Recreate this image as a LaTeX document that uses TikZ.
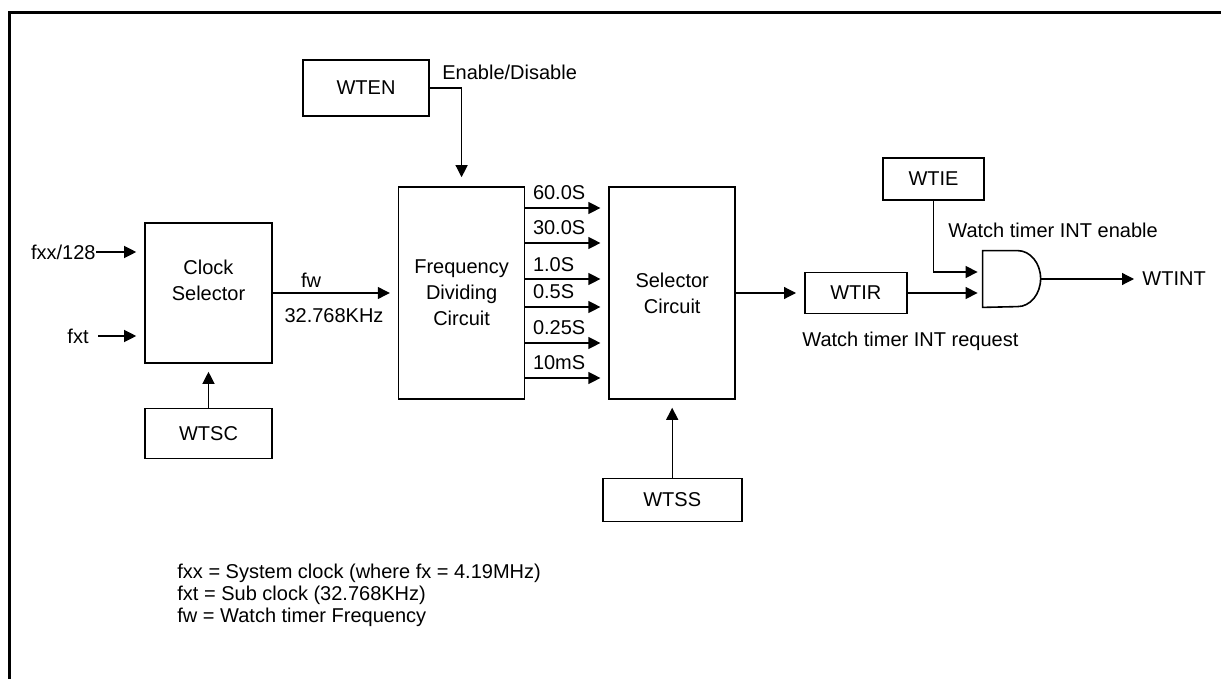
\documentclass[tikz,border=0pt]{standalone}
\usepackage{fontspec}
\setmainfont{Liberation Sans}
\usetikzlibrary{arrows.meta,positioning,calc}

\begin{document}
\begin{tikzpicture}[
  x=0.5pt, y=-0.5pt,
  font=\fontsize{10}{13}\selectfont,
  blk/.style={draw, line width=0.8pt, align=center, inner sep=0pt},
  arr/.style={-{Triangle[length=6pt,width=6pt]}, line width=0.6pt, shorten >=4pt},
  lbl/.style={inner sep=0pt}
]
\useasboundingbox (0,0) rectangle (1221,679);
\draw[line width=1.5pt] (9,679) -- (9,13) -- (1221,13);

% blocks
\node[blk, minimum width=63.5pt, minimum height=70pt] (Clk) at (208.5,293) {Clock\\Selector\\\mbox{}};
\node[blk, minimum width=63.5pt, minimum height=25pt, below=22pt of Clk] (WTSC) {WTSC};
\node[blk, minimum width=63pt, minimum height=106pt, right=62.5pt of Clk] (Freq) {Frequency\\Dividing\\Circuit};
\node[blk, minimum width=63pt, minimum height=106pt, right=41.5pt of Freq] (Sel) {Selector\\Circuit};
\node[blk, minimum width=69.5pt, minimum height=21.5pt, below=39pt of Sel] (WTSS) {WTSS};
\node[blk, minimum width=63pt, minimum height=28pt] (WTEN) at (366,88) {WTEN};
\node[blk, minimum width=51pt, minimum height=20.5pt, right=34pt of Sel] (WTIR) {WTIR};
\node[blk, minimum width=50.5pt, minimum height=21pt] (WTIE) at (933.5,179) {WTIE};
\node[inner sep=0pt, minimum width=29pt, minimum height=28pt] (AND) at (1012,279) {};
\draw[line width=0.8pt] (AND.north west) -- ++(17.5pt,0)
  arc[start angle=90, end angle=-90, x radius=11.5pt, y radius=14pt] -- (AND.south west) -- cycle;

% texts
\node[lbl, anchor=east] (fxx) at (96,252) {fxx/128};
\node[lbl, anchor=east] (fxt) at (89,336) {fxt};
\node[lbl, anchor=base] (fw) at (311,288) {fw};
\node[lbl, anchor=base] (fwf) at (334,322) {32.768KHz};
\node[lbl, anchor=base west] (en) at (442,80) {Enable/Disable};
\node[lbl, anchor=base west] (ien) at (948,238) {Watch timer INT enable};
\node[lbl, anchor=base west] (irq) at (802,347) {Watch timer INT request};
\node[lbl, anchor=west] (WTINT) at (1142,279) {WTINT};
\node[lbl, anchor=base west] (note1) at (177,578) {fxx = System clock (where fx = 4.19MHz)};
\node[lbl, anchor=base west] (note2) at (177,600) {fxt = Sub clock (32.768KHz)};
\node[lbl, anchor=base west] (note3) at (177,622) {fw = Watch timer Frequency};

% connectors
\draw[arr] (fxx.east) -- (fxx.east -| Clk.west);
\draw[arr] ([xshift=4.5pt]fxt.east) -- (fxt.east -| Clk.west);
\draw[arr] (WTSC.north) -- (Clk.south);
\draw[arr] (Clk.east) -- (Freq.west);
\draw[arr, shorten >=4.5pt] (WTEN.east) -| (Freq.north);
\draw[arr] ([yshift=42.5pt]Freq.east) -- ([yshift=42.5pt]Sel.west) node[lbl, pos=0, anchor=base west, xshift=3.5pt, yshift=4pt] (t60) {60.0S};
\draw[arr] ([yshift=25pt]Freq.east) -- ([yshift=25pt]Sel.west) node[lbl, pos=0, anchor=base west, xshift=3.5pt, yshift=4pt] (t30) {30.0S};
\draw[arr] ([yshift=7pt]Freq.east) -- ([yshift=7pt]Sel.west) node[lbl, pos=0, anchor=base west, xshift=3.5pt, yshift=4pt] (t1) {1.0S};
\draw[arr] ([yshift=-7pt]Freq.east) -- ([yshift=-7pt]Sel.west) node[lbl, pos=0, anchor=base west, xshift=3.5pt, yshift=4pt] (t05) {0.5S};
\draw[arr] ([yshift=-25pt]Freq.east) -- ([yshift=-25pt]Sel.west) node[lbl, pos=0, anchor=base west, xshift=3.5pt, yshift=4pt] (t025) {0.25S};
\draw[arr] ([yshift=-42.5pt]Freq.east) -- ([yshift=-42.5pt]Sel.west) node[lbl, pos=0, anchor=base west, xshift=3.5pt, yshift=4pt] (t10) {10mS};
\draw[arr] (WTSS.north) -- (WTSS.north |- Sel.south);
\draw[arr] (Sel.east) -- (WTIR.west);
\draw[arr, shorten >=2.5pt] (WTIR.east) -- (WTIR.east -| AND.west);
\draw[arr, shorten >=2.5pt] (WTIE.south) |- ([yshift=3.5pt]AND.west);
\draw[arr] (AND.east) -- (WTINT.west);
\end{tikzpicture}
\end{document}
